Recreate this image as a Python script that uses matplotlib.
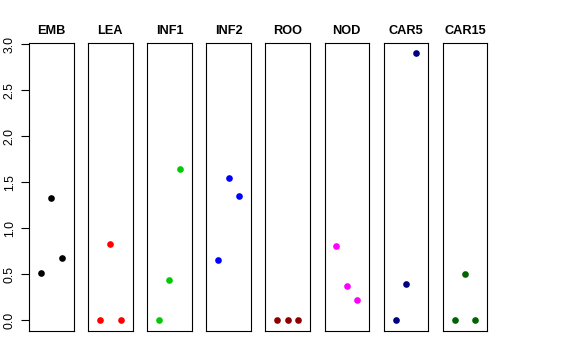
import matplotlib
matplotlib.use("Agg")
import matplotlib.pyplot as plt

# Donnees
groupes = ["EMB", "LEA", "INF1", "INF2", "ROO", "NOD", "CAR5", "CAR15"]
couleurs = ["black", "red", "#00CD00", "blue", "#8B0000", "magenta", "#000080", "#006400"]
EMB = [0.51, 1.33, 0.68]
LEA = [0.0, 0.83, 0.0]
INF1 = [0.0, 0.44, 1.64]
INF2 = [0.66, 1.55, 1.35]
ROO = [0.0, 0.0, 0.0]
NOD = [0.81, 0.37, 0.22]
CAR5 = [0.0, 0.39, 2.90]
CAR15 = [0.0, 0.50, 0.0]
valeurs = [EMB, LEA, INF1, INF2, ROO, NOD, CAR5, CAR15]
x = [1, 2, 3]
yticks = [0.0, 0.5, 1.0, 1.5, 2.0, 2.5, 3.0]

plt.rcParams["font.family"] = ["Liberation Sans", "DejaVu Sans"]

W, H = 576, 360
fig = plt.figure(figsize=(W / 100, H / 100), dpi=100)

# position des panneaux (pixels)
left0, pas, larg = 29.0, 59.1, 44.5
haut, bas = 42.7, 331.0
ymax = max(max(v) for v in valeurs)
marge = 0.04 * ymax

for i, nom in enumerate(groupes):
    ax = fig.add_axes([(left0 + i * pas) / W, (H - bas) / H, larg / W, (bas - haut) / H])
    ax.plot(x, valeurs[i], "o", color=couleurs[i], ms=4.8, mec="none")
    ax.set_xlim(-0.16, 4.16)
    ax.set_ylim(-marge, ymax + marge)
    ax.set_xticks([])
    for s in ax.spines.values():
        s.set_linewidth(0.8)
        s.set_color("black")
    ax.set_title(nom, fontsize=9.2, fontweight="bold", pad=6.0)
    if i == 0:
        ax.set_yticks(yticks)
        ax.set_yticklabels(["%.1f" % t for t in yticks], rotation=90, va="center", fontsize=8.8)
        ax.tick_params(axis="y", length=5.5, width=0.8, pad=4)
    else:
        ax.set_yticks([])

fig.savefig("out.png", dpi=100)
